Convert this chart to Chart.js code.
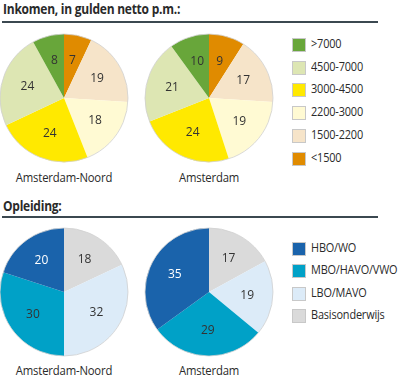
<!DOCTYPE html>
<html>
<head>
<meta charset="utf-8">
<script src="https://cdn.jsdelivr.net/npm/chart.js@4/dist/chart.umd.min.js"></script>
<style>
  body { margin: 0; background: #fff; font-family: "Open Sans", sans-serif; color: #2a2a2a; }
  #wrap { position: relative; width: 400px; height: 378px; overflow: hidden; }
  .title { position: absolute; left: 3px; font-weight: bold; font-size: 15px; letter-spacing: -0.3px;
           white-space: nowrap; transform: scaleX(0.8); transform-origin: left top; }
  .rule { position: absolute; left: 2px; width: 376px; height: 2px; background: #3b4850; }
  .pie { position: absolute; width: 130px; height: 130px; }
  .name { position: absolute; width: 150px; text-align: center; font-size: 13px; letter-spacing: -0.2px;
          transform: scaleX(0.87); transform-origin: center top; }
  .legend { position: absolute; left: 292px; font-size: 13px; letter-spacing: -0.2px; }
  .legend div { position: relative; line-height: 14px; white-space: nowrap; }
  .legend span { position: absolute; left: 0; top: 0; width: 12px; height: 12px; border: 1px solid #c8c8c8; }
  .legend b { position: absolute; left: 19px; top: -2px; font-weight: normal;
              transform: scaleX(0.84); transform-origin: left top; }
</style>
</head>
<body>
<div id="wrap">
  <div class="title" style="top:-2px">Inkomen, in gulden netto p.m.:</div>
  <div class="rule" style="top:21px"></div>
  <canvas id="pieA" class="pie" style="left:-1px;top:33px"></canvas>
  <canvas id="pieB" class="pie" style="left:144px;top:33px"></canvas>
  <div class="name" style="left:-11px;top:168px">Amsterdam-Noord</div>
  <div class="name" style="left:134px;top:168px">Amsterdam</div>
  <div id="legendInc" class="legend" style="top:38px" data-row="22.7"></div>

  <div class="title" style="top:195px">Opleiding:</div>
  <div class="rule" style="top:216px"></div>
  <canvas id="pieC" class="pie" style="left:-1px;top:227px"></canvas>
  <canvas id="pieD" class="pie" style="left:144px;top:227px"></canvas>
  <div class="name" style="left:-11px;top:361px">Amsterdam-Noord</div>
  <div class="name" style="left:134px;top:361px">Amsterdam</div>
  <div id="legendEdu" class="legend" style="top:242px" data-row="22.4"></div>
</div>
<script>
// income categories, clockwise from 12 o'clock
const incomeCats = ["<1500", "1500-2200", "2200-3000", "3000-4500", "4500-7000", ">7000"];
const incomeNoord = [7, 19, 18, 24, 24, 8];
const incomeAmsterdam = [9, 17, 19, 24, 21, 10];
const incomeColors = ["#e08b00", "#f6e4c9", "#fffad3", "#ffe900", "#dde6b3", "#68a63a"];
const incomeLabelColors = ["#333", "#333", "#333", "#333", "#333", "#333"];
const incomeLegendOrder = [5, 4, 3, 2, 1, 0];

// education categories, clockwise from 12 o'clock
const eduCats = ["Basisonderwijs", "LBO/MAVO", "MBO/HAVO/VWO", "HBO/WO"];
const eduNoord = [18, 32, 30, 20];
const eduAmsterdam = [17, 19, 29, 35];
const eduColors = ["#dadada", "#dcebf8", "#00a1c7", "#1a63ab"];
const eduLabelColors = ["#333", "#333", "#333", "#fff"];
const eduLegendOrder = [3, 2, 1, 0];

const sliceLabels = {
  id: "sliceLabels",
  afterDatasetsDraw(chart) {
    const ctx = chart.ctx;
    const meta = chart.getDatasetMeta(0);
    const colors = chart.options.plugins.sliceLabels.colors;
    ctx.save();
    ctx.font = "12px 'Open Sans', sans-serif";
    ctx.textAlign = "center";
    ctx.textBaseline = "middle";
    meta.data.forEach((arc, i) => {
      const mid = (arc.startAngle + arc.endAngle) / 2;
      const r = arc.outerRadius * 0.6;
      ctx.fillStyle = colors[i];
      ctx.fillText(chart.data.datasets[0].data[i], arc.x + Math.cos(mid) * r, arc.y + Math.sin(mid) * r);
    });
    ctx.restore();
  }
};

function makePie(id, labels, values, colors, labelColors) {
  new Chart(document.getElementById(id), {
    type: "pie",
    data: {
      labels,
      datasets: [{
        data: values,
        backgroundColor: colors,
        borderWidth: 0
      }]
    },
    options: {
      responsive: false,
      animation: false,
      layout: { padding: 1 },
      plugins: {
        legend: { display: false },
        tooltip: { enabled: false },
        sliceLabels: { colors: labelColors }
      }
    },
    plugins: [sliceLabels, {
      id: "outline",
      afterDatasetsDraw(chart) {
        const arc = chart.getDatasetMeta(0).data[0];
        const ctx = chart.ctx;
        ctx.save();
        ctx.strokeStyle = "#d0d0d0";
        ctx.lineWidth = 0.8;
        ctx.beginPath();
        ctx.arc(arc.x, arc.y, arc.outerRadius, 0, Math.PI * 2);
        ctx.stroke();
        ctx.restore();
      }
    }]
  });
}

function makeLegend(id, cats, colors, order) {
  const el = document.getElementById(id);
  const step = parseFloat(el.dataset.row);
  order.forEach((i, n) => {
    const row = document.createElement("div");
    row.style.position = "absolute";
    row.style.top = Math.round(n * step) + "px";
    const box = document.createElement("span");
    box.style.background = colors[i];
    const txt = document.createElement("b");
    txt.textContent = cats[i];
    row.appendChild(box);
    row.appendChild(txt);
    el.appendChild(row);
  });
}

for (const c of ["pieA", "pieB", "pieC", "pieD"]) {
  const el = document.getElementById(c);
  el.width = 130; el.height = 130;
}

makePie("pieA", incomeCats, incomeNoord, incomeColors, incomeLabelColors);
makePie("pieB", incomeCats, incomeAmsterdam, incomeColors, incomeLabelColors);
makePie("pieC", eduCats, eduNoord, eduColors, eduLabelColors);
makePie("pieD", eduCats, eduAmsterdam, eduColors, eduLabelColors);
makeLegend("legendInc", incomeCats, incomeColors, incomeLegendOrder);
makeLegend("legendEdu", eduCats, eduColors, eduLegendOrder);
</script>
</body>
</html>
